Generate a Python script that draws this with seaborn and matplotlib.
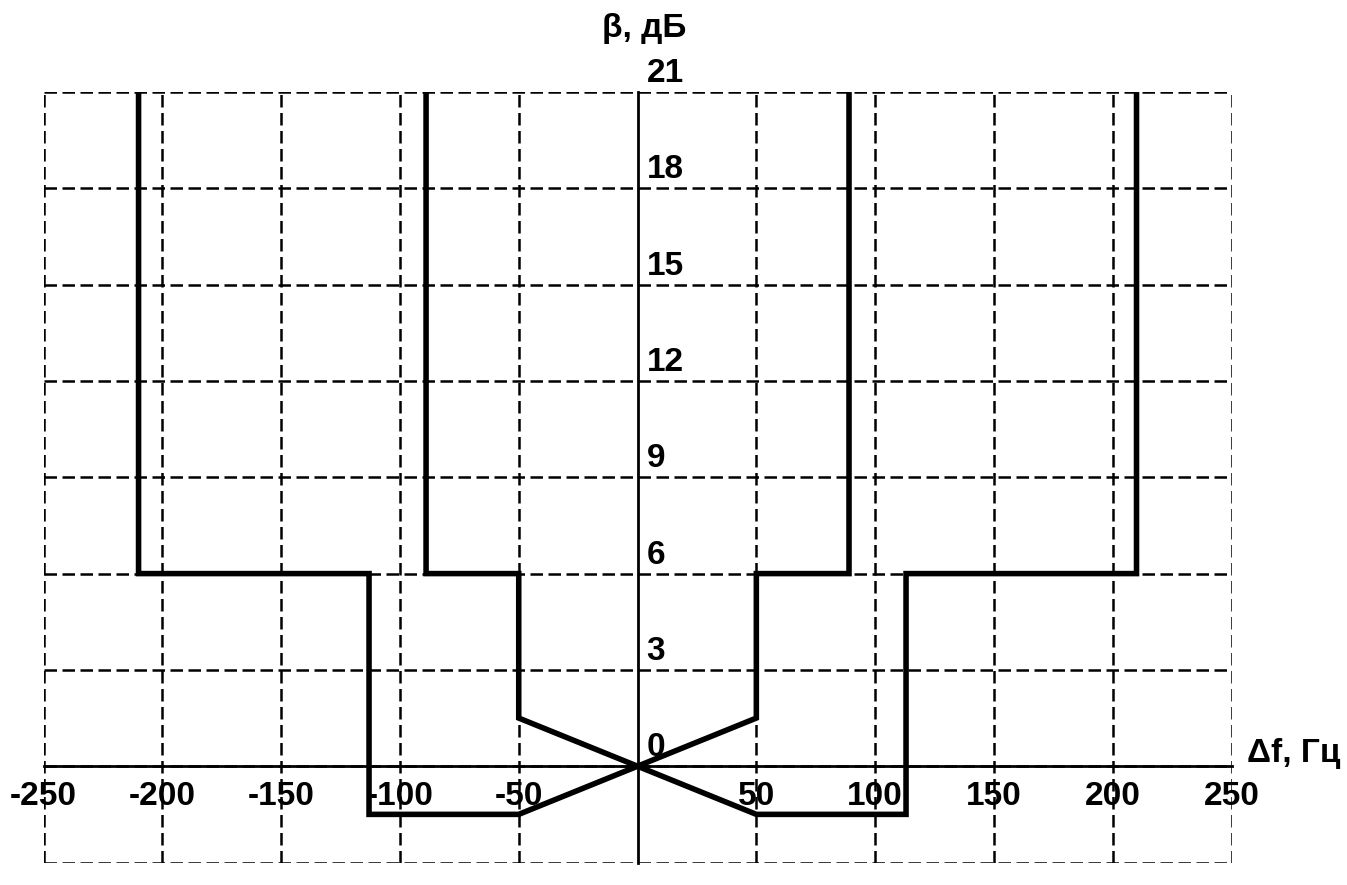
import pandas as pd
import matplotlib.pyplot as plt
import seaborn as sns

# --- data ---
x_ticks = [-250, -200, -150, -100, -50, 50, 100, 150, 200, 250]
y_grid = [-3, 0, 3, 6, 9, 12, 15, 18, 21]
y_labels = [0, 3, 6, 9, 12, 15, 18, 21]

# first mask (outer on the left, inner on the right)
curve_a_df = [-210, -210, -113, -113, -50, 0, 50, 50, 89, 89]
curve_a_beta = [21, 6, 6, -1.5, -1.5, 0, 1.5, 6, 6, 21]
# second mask (mirror image)
curve_b_df = [-89, -89, -50, -50, 0, 50, 113, 113, 210, 210]
curve_b_beta = [21, 6, 6, 1.5, 0, -1.5, -1.5, 6, 6, 21]

df_a = pd.DataFrame({'df': curve_a_df, 'beta': curve_a_beta})
df_b = pd.DataFrame({'df': curve_b_df, 'beta': curve_b_beta})

sns.set_style('white')
plt.rcParams['font.family'] = ['Liberation Sans', 'DejaVu Sans']
plt.rcParams['font.weight'] = 'bold'
plt.rcParams['text.color'] = 'black'
plt.rcParams['xtick.color'] = 'black'
plt.rcParams['xtick.labelcolor'] = 'black'
plt.rcParams['axes.unicode_minus'] = False

fig = plt.figure(figsize=(13.47, 8.85), dpi=100)
ax = fig.add_axes([0.0323, 0.0254, 0.882, 0.8706])

# --- curves ---
for d in (df_a, df_b):
    sns.lineplot(data=d, x='df', y='beta', sort=False, estimator=None,
                 color='black', linewidth=4.0, ax=ax,
                 solid_joinstyle='miter', solid_capstyle='butt', zorder=5)

ax.set_xlim(-250, 250)
ax.set_ylim(-3, 21)
ax.set_xticks(x_ticks)
ax.set_yticks(y_grid)
ax.grid(True, color='black', linewidth=1.8, linestyle=(0, (5, 2.2)))
for gl in ax.get_xgridlines() + ax.get_ygridlines():
    gl.set_clip_on(False)

# axes through the origin
ax.spines['top'].set_visible(False)
ax.spines['right'].set_visible(False)
ax.spines['bottom'].set_position(('data', 0))
ax.spines['left'].set_position(('data', 0))
for s in ('bottom', 'left'):
    ax.spines[s].set_linewidth(2.0)
    ax.spines[s].set_color('black')
    ax.spines[s].set_zorder(4)

ax.tick_params(axis='x', length=0, pad=11, labelsize=24)
ax.tick_params(axis='y', length=0, labelleft=False)
ax.set_xlabel('')
ax.set_ylabel('')

for v in y_labels:
    ax.annotate(str(v), xy=(0, v), xytext=(9, 10), textcoords='offset pixels',
                ha='left', va='baseline', fontsize=24)

ax.annotate('Δf, Гц', xy=(250, 0), xytext=(15, 4), textcoords='offset pixels',
            ha='left', va='baseline', fontsize=24, annotation_clip=False)
fig.text(644 / 1347, 1 - 37 / 885, 'β, дБ', ha='center', va='baseline',
         fontsize=24)

fig.savefig('out.png', dpi=100)
